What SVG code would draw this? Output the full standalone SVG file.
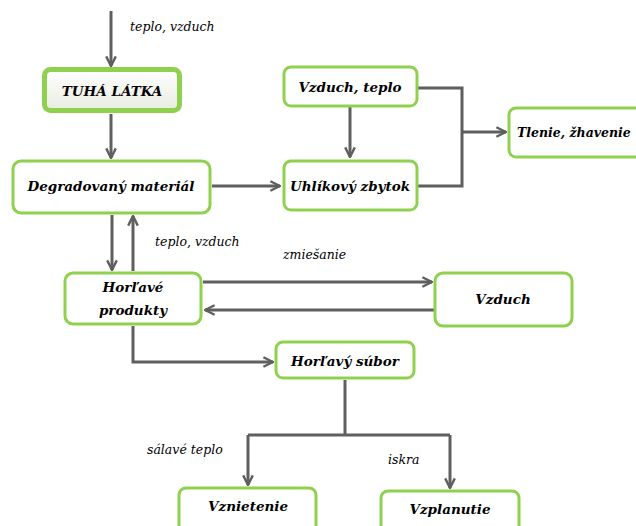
<svg xmlns="http://www.w3.org/2000/svg" width="636" height="526" viewBox="0 0 636 526">
<style>
.box{fill:#fff;stroke:#8fd14f;stroke-width:3}
.t{font-family:'DejaVu Serif','Liberation Serif',serif;font-style:italic;font-weight:bold;font-size:13.5px;fill:#000;text-anchor:middle}
.l{font-family:'DejaVu Serif','Liberation Serif',serif;font-style:italic;font-size:12.5px;fill:#000}
.c{fill:none;stroke:#5f5f5f;stroke-width:3}
</style>
<defs>
<marker id="a" viewBox="0 0 10 10" refX="9" refY="5" markerWidth="4" markerHeight="4" orient="auto" markerUnits="strokeWidth">
<path d="M1,1 L9,5 L1,9" fill="none" stroke="#5f5f5f" stroke-width="2"/>
</marker>
<linearGradient id="g" x1="0" y1="0" x2="0" y2="1">
<stop offset="0" stop-color="#ffffff"/><stop offset="1" stop-color="#e8ecdf"/>
</linearGradient>
</defs>
<rect width="636" height="526" fill="#fff"/>
<g id="connectors">
<path class="c" d="M111,11 V66" marker-end="url(#a)"/>
<path class="c" d="M111,114 V158" marker-end="url(#a)"/>
<path class="c" d="M350,107 V157" marker-end="url(#a)"/>
<path class="c" d="M418,88 H462 V186 H418"/>
<path class="c" d="M462,132 H506" marker-end="url(#a)"/>
<path class="c" d="M212,186 H280" marker-end="url(#a)"/>
<path class="c" d="M112,215 V270" marker-end="url(#a)"/>
<path class="c" d="M133,271 V216" marker-end="url(#a)"/>
<path class="c" d="M203,282 H432" marker-end="url(#a)"/>
<path class="c" d="M434,310 H205" marker-end="url(#a)"/>
<path class="c" d="M133,326 V362 H273" marker-end="url(#a)"/>
<path class="c" d="M345,380 V435"/>
<path class="c" d="M248,435 H450"/>
<path class="c" d="M248,435 V485" marker-end="url(#a)"/>
<path class="c" d="M450,435 V488" marker-end="url(#a)"/>
</g>
<g id="labels">
<text class="l" x="130" y="31">teplo, vzduch</text>
<text class="l" x="155" y="246">teplo, vzduch</text>
<text class="l" x="283" y="259">zmiešanie</text>
<text class="l" x="147" y="454">sálavé teplo</text>
<text class="l" x="388" y="464">iskra</text>
</g>
<g id="n-tuha">
<rect x="44.5" y="69.5" width="135" height="41" rx="6" fill="url(#g)" stroke="#8fd14f" stroke-width="5"/>
<text class="t" x="112" y="96">TUHÁ LÁTKA</text>
</g>
<g id="n-vzduch-teplo">
<rect class="box" x="284" y="67" width="133" height="39" rx="7"/>
<text class="t" x="350" y="92">Vzduch, teplo</text>
</g>
<g id="n-uhlikovy">
<rect class="box" x="284" y="161" width="133" height="49" rx="7"/>
<text class="t" x="350" y="191">Uhlíkový zbytok</text>
</g>
<g id="n-tlenie">
<rect class="box" x="509" y="108" width="140" height="49" rx="7"/>
<text class="t" x="517" y="137" style="text-anchor:start;font-size:12.5px">Tlenie, žhavenie</text>
</g>
<g id="n-degradovany">
<rect class="box" x="13" y="161" width="197" height="52" rx="8"/>
<text class="t" x="111" y="191">Degradovaný  materiál</text>
</g>
<g id="n-horlave">
<rect class="box" x="65" y="273" width="136" height="51" rx="8"/>
<text class="t" x="133" y="292">Horľavé</text>
<text class="t" x="133" y="315">produkty</text>
</g>
<g id="n-vzduch">
<rect class="box" x="435" y="273" width="137" height="53" rx="8"/>
<text class="t" x="503" y="304">Vzduch</text>
</g>
<g id="n-subor">
<rect class="box" x="276" y="342" width="138" height="36" rx="7"/>
<text class="t" x="345" y="366">Horľavý súbor</text>
</g>
<g id="n-vznietenie">
<rect class="box" x="179" y="488" width="137" height="45" rx="7"/>
<text class="t" x="248" y="511">Vznietenie</text>
</g>
<g id="n-vzplanutie">
<rect class="box" x="381" y="491" width="138" height="45" rx="7"/>
<text class="t" x="450" y="514">Vzplanutie</text>
</g>
</svg>
